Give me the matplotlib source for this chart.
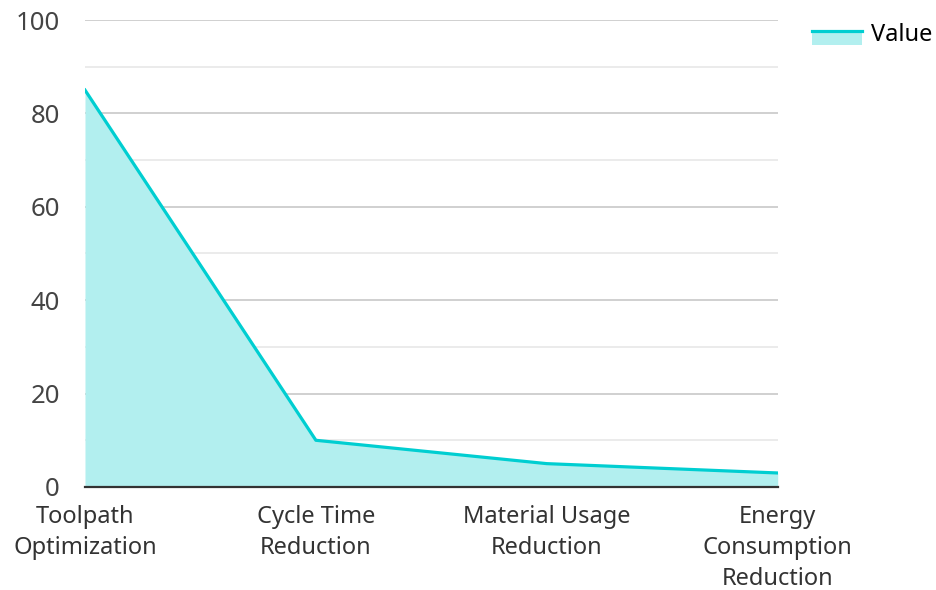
import matplotlib
matplotlib.use('Agg')
import matplotlib.pyplot as plt
from matplotlib.patches import Rectangle
from matplotlib.lines import Line2D
from matplotlib.legend_handler import HandlerBase

categories = ['Toolpath\nOptimization', 'Cycle Time\nReduction',
              'Material Usage\nReduction', 'Energy\nConsumption\nReduction']
values = [85, 10, 5, 3]
series_name = 'Value'

line_color = '#00CED1'
fill_color = '#B2EFEF'


class AreaHandler(HandlerBase):
    # filled box with the line sitting on its top edge, like the area legend
    def create_artists(self, legend, orig_handle, xdescent, ydescent,
                       width, height, fontsize, trans):
        y0 = -ydescent - 4
        rect = Rectangle((-xdescent, y0), width, height, facecolor=fill_color,
                         edgecolor='none', transform=trans)
        line = Line2D([-xdescent, -xdescent + width], [y0 + height] * 2,
                      color=line_color, linewidth=2.3, transform=trans)
        return [rect, line]


plt.rcParams['font.family'] = ['Noto Sans', 'DejaVu Sans']

fig = plt.figure(figsize=(9.37, 5.9), dpi=100)
ax = fig.add_axes([0.0907, 0.1746, 0.7393, 0.7915])

x = list(range(len(categories)))
ax.fill_between(x, values, 0, color=fill_color, linewidth=0, zorder=2)
ax.plot(x, values, color=line_color, linewidth=2.3, zorder=3)

ax.set_xlim(0, len(categories) - 1)
ax.set_ylim(0, 100)
ax.set_xticks(x)
ax.set_xticklabels(categories, fontsize=17, color='#333333', linespacing=1.4)
ax.set_yticks(range(0, 101, 20))
ax.set_yticks(range(10, 100, 20), minor=True)
ax.tick_params(axis='y', which='both', length=0, pad=18, labelsize=18.5, labelcolor='#444444')
ax.tick_params(axis='x', length=0, pad=13)

ax.grid(axis='y', which='major', color='#c8c8c8', linewidth=1.2, zorder=1)
ax.grid(axis='y', which='minor', color='#e8e8e8', linewidth=1.2, zorder=1)
ax.set_axisbelow(True)

for side in ['left', 'right', 'top']:
    ax.spines[side].set_visible(False)
ax.spines['bottom'].set_color('#333333')
ax.spines['bottom'].set_linewidth(1.6)
ax.spines['bottom'].set_zorder(4)

fig.legend([object()], [series_name], handler_map={object: AreaHandler()},
           loc='upper left', bbox_to_anchor=(0.8666, 0.9615), frameon=False,
           borderpad=0, borderaxespad=0, fontsize=17, handlelength=2.1,
           handleheight=0.55, handletextpad=0.4)

fig.savefig('out.png', dpi=100)
